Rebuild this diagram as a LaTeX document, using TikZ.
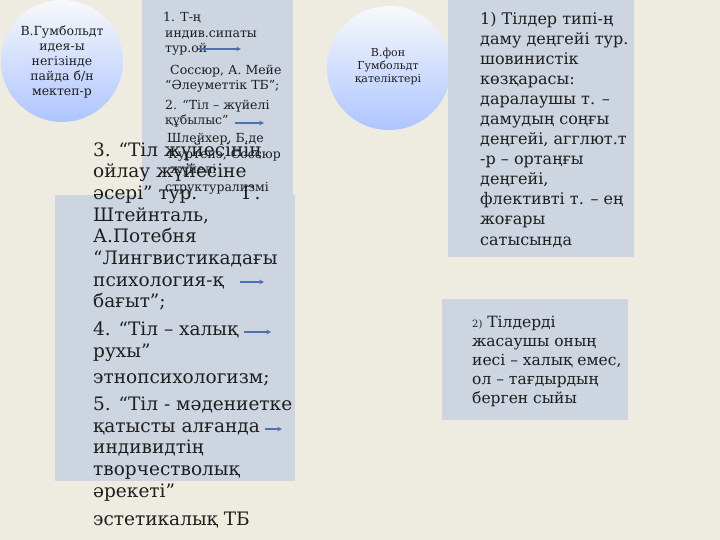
\documentclass[tikz,border=0pt]{standalone}
\usepackage{fontspec}
\setmainfont{DejaVu Serif}
\usepackage{xcolor}
\usepackage{tikz}
\definecolor{paper}{HTML}{EEEBE1}
\definecolor{panel}{HTML}{CDD5E1}
\definecolor{ink}{HTML}{1E1E1E}
\definecolor{pointer}{HTML}{5070B4}
\tikzset{
  bubble/.style={top color=white!85!panel, bottom color=blue!25!cyan!15!white!80!blue, draw=none},
  bigtxt/.style={anchor=base west, inner sep=0pt, text=ink, font=\fontsize{18.5}{21.7}\selectfont},
  smalltxt/.style={anchor=base west, inner sep=0pt, text=ink, font=\fontsize{12.5}{15}\selectfont},
  midtxt/.style={anchor=base west, inner sep=0pt, text=ink, font=\fontsize{16}{20}\selectfont},
  pointerline/.style={->, pointer, line width=1.1pt, >=stealth}
}
\begin{document}
\begin{tikzpicture}[x=1pt, y=-1pt]
            \useasboundingbox (0,0) rectangle (720,540);
            \fill[paper] (0,0) rectangle (720,540);
            % Circles
            \shade[bubble] (62,61) circle (61);
            \shade[bubble] (389,68) circle (62);
            % Panels
            \fill[panel] (142,0) rectangle (293,195);
            \fill[panel] (55,195) rectangle (295,481);
            \fill[panel] (448,0) rectangle (634,257);
            \fill[panel] (442,299) rectangle (628,420);

            % Circle texts (base = last line)
            \node[align=center, text=ink, inner sep=0pt, anchor=base,
                  font=\fontsize{12.5}{15}\selectfont] (school) at (62,96)
                {В.Гумбольдт\\идея-ы\\негізінде\\пайда б/н\\мектеп-р};
            \node[align=center, text=ink, inner sep=0pt, anchor=base,
                  font=\fontsize{11}{13}\selectfont] (errors) at (388,83)
                {В.фон\\Гумбольдт\\қателіктері};

            % Upper small panel
            \foreach \y/\x/\txt [count=\i] in {
                22/163/{1. Т-ң}, 38/165/{индив.сипаты}, 53/165/{тур.ой},
                75/170/{Соссюр, А. Мейе}, 90/165/{“Әлеуметтік ТБ”;},
                110/165/{2. “Тіл – жүйелі}, 125/165/{құбылыс”},
                143/167/{Шлейхер, Б.де}, 159/168/{Куртенэ, Соссюр},
                174/170/{жүйелі}, 192/165/{структурализмі}}
            {
                \node[smalltxt] (small\i) at (\x,\y) {\txt};
            }

            % Big panel
            \foreach \y/\txt [count=\i] in {
                157/{3. “Тіл жүйесінің}, 178/{ойлау жүйесіне},
                200/{әсері” тур.\hspace{45pt}Г.}, 222/{Штейнталь,},
                243/{А.Потебня}, 264/{“Лингвистикадағы},
                286/{психология-қ}, 307/{бағыт”;},
                335/{4. “Тіл – халық}, 357/{рухы”},
                383/{этнопсихологизм;},
                410/{5. “Тіл - мәдениетке}, 432/{қатысты алғанда},
                453/{индивидтің}, 475/{творчестволық}, 497/{әрекеті”},
                525/{эстетикалық ТБ}}
            {
                \node[bigtxt] (big\i) at (93,\y) {\txt};
            }

            % Right panels
            \foreach \y/\txt [count=\i] in {
                25/{1) Тілдер типі-ң}, 45/{даму деңгейі тур.},
                65/{шовинистік}, 85/{көзқарасы:}, 105/{даралаушы т. –},
                125/{дамудың соңғы}, 145/{деңгейі, агглют.т},
                165/{-р – ортаңғы}, 185/{деңгейі,},
                205/{флективті т. – ең}, 225/{жоғары}, 245/{сатысында}}
            {
                \node[midtxt] (flaw\i) at (480,\y) {\txt};
            }
            \foreach \y/\txt [count=\i] in {
                327/{{\fontsize{10}{12}\selectfont 2)} Тілдерді},
                346/{жасаушы оның}, 365/{иесі – халық емес,},
                384/{ол – тағдырдың}, 403/{берген сыйы}}
            {
                \node[midtxt, font=\fontsize{15.5}{19}\selectfont] (gift\i) at (472,\y) {\txt};
            }

            % Arrows
            \coordinate (a1) at (198,49);  \coordinate (b1) at (241,49);
            \coordinate (a2) at (235,123); \coordinate (b2) at (264,123);
            \coordinate (a3) at (240,282); \coordinate (b3) at (264,282);
            \coordinate (a4) at (244,332); \coordinate (b4) at (271,332);
            \coordinate (a5) at (265,429); \coordinate (b5) at (282,429);
            \foreach \i in {1,...,5}
            {
                \draw[pointerline] (a\i) -- (b\i);
            }
\end{tikzpicture}
\end{document}
